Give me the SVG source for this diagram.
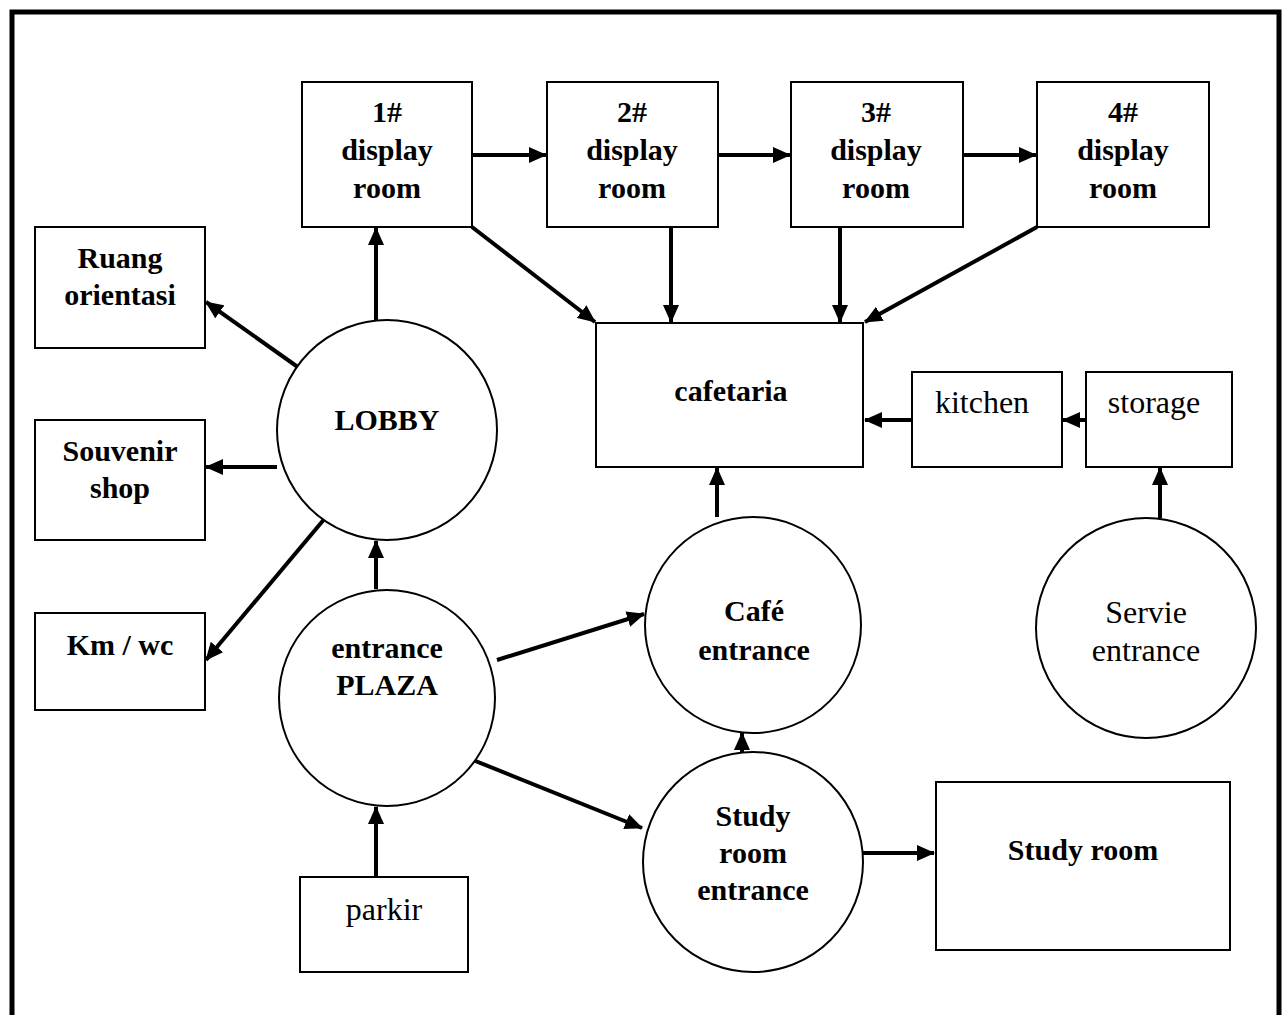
<svg xmlns="http://www.w3.org/2000/svg" width="1285" height="1019" viewBox="0 0 1285 1019">
  <defs>
    <marker id="arrow" markerUnits="userSpaceOnUse" markerWidth="18" markerHeight="16" viewBox="0 0 18 16" refX="17" refY="8" orient="auto">
      <path d="M0,0 L18,8 L0,16 Z" fill="#000"/>
    </marker>
  </defs>
  <style>
    .box { fill: #fff; stroke: #000; stroke-width: 2; }
    .hub { fill: #fff; stroke: #000; stroke-width: 2; }
    .t { font-family: "Liberation Serif", "Times New Roman", serif; font-size: 30px; font-weight: bold; fill: #000; text-anchor: middle; }
    .r { font-family: "Liberation Serif", "Times New Roman", serif; font-size: 32px; font-weight: normal; fill: #000; text-anchor: middle; }
    .link { stroke: #000; stroke-width: 4; fill: none; marker-end: url(#arrow); }
  </style>
  <rect width="1285" height="1019" fill="#fff"/>

  <!-- outer frame (open at the bottom) -->
  <path d="M12,1015 L12,12 L1279,12 L1279,1015" fill="none" stroke="#000" stroke-width="5"/>

  <!-- connectors -->
  <g id="connectors">
    <line class="link" x1="472" y1="155" x2="546" y2="155"/>
    <line class="link" x1="718" y1="155" x2="790" y2="155"/>
    <line class="link" x1="963" y1="155" x2="1036" y2="155"/>
    <line class="link" x1="472" y1="227" x2="595" y2="322"/>
    <line class="link" x1="671" y1="227" x2="671" y2="322"/>
    <line class="link" x1="840" y1="227" x2="840" y2="322"/>
    <line class="link" x1="1037" y1="227" x2="865" y2="322"/>
    <line class="link" x1="376" y1="321" x2="376" y2="228"/>
    <line class="link" x1="302" y1="370" x2="206" y2="302"/>
    <line class="link" x1="277" y1="467" x2="206" y2="467"/>
    <line class="link" x1="326" y1="517" x2="206" y2="660"/>
    <line class="link" x1="376" y1="589" x2="376" y2="541"/>
    <line class="link" x1="376" y1="877" x2="376" y2="807"/>
    <line class="link" x1="497" y1="660" x2="644" y2="614"/>
    <line class="link" x1="473" y1="760" x2="642" y2="828"/>
    <line class="link" x1="742" y1="752" x2="742" y2="733"/>
    <line class="link" x1="717" y1="517" x2="717" y2="468"/>
    <line class="link" x1="912" y1="420" x2="865" y2="420"/>
    <line class="link" x1="1086" y1="420" x2="1063" y2="420"/>
    <line class="link" x1="1160" y1="518" x2="1160" y2="468"/>
    <line class="link" x1="862" y1="853" x2="934" y2="853"/>
  </g>

  <!-- display rooms -->
  <g id="display1">
    <rect class="box" x="302" y="82" width="170" height="145"/>
    <text class="t" x="387" y="122">1#</text>
    <text class="t" x="387" y="160">display</text>
    <text class="t" x="387" y="198">room</text>
  </g>
  <g id="display2">
    <rect class="box" x="547" y="82" width="171" height="145"/>
    <text class="t" x="632" y="122">2#</text>
    <text class="t" x="632" y="160">display</text>
    <text class="t" x="632" y="198">room</text>
  </g>
  <g id="display3">
    <rect class="box" x="791" y="82" width="172" height="145"/>
    <text class="t" x="876" y="122">3#</text>
    <text class="t" x="876" y="160">display</text>
    <text class="t" x="876" y="198">room</text>
  </g>
  <g id="display4">
    <rect class="box" x="1037" y="82" width="172" height="145"/>
    <text class="t" x="1123" y="122">4#</text>
    <text class="t" x="1123" y="160">display</text>
    <text class="t" x="1123" y="198">room</text>
  </g>

  <!-- rooms off the lobby -->
  <g id="ruang-orientasi">
    <rect class="box" x="35" y="227" width="170" height="121"/>
    <text class="t" x="120" y="268">Ruang</text>
    <text class="t" x="120" y="305">orientasi</text>
  </g>
  <g id="souvenir-shop">
    <rect class="box" x="35" y="420" width="170" height="120"/>
    <text class="t" x="120" y="461">Souvenir</text>
    <text class="t" x="120" y="498">shop</text>
  </g>
  <g id="km-wc">
    <rect class="box" x="35" y="613" width="170" height="97"/>
    <text class="t" x="120" y="655">Km / wc</text>
  </g>

  <!-- circulation hubs -->
  <g id="lobby">
    <circle class="hub" cx="387" cy="430" r="110"/>
    <text class="t" x="387" y="430">LOBBY</text>
  </g>
  <g id="entrance-plaza">
    <circle class="hub" cx="387" cy="698" r="108"/>
    <text class="t" x="387" y="658">entrance</text>
    <text class="t" x="387" y="695">PLAZA</text>
  </g>
  <g id="cafe-entrance">
    <circle class="hub" cx="753" cy="625" r="108"/>
    <text class="t" x="754" y="621">Café</text>
    <text class="t" x="754" y="660">entrance</text>
  </g>
  <g id="study-room-entrance">
    <circle class="hub" cx="753" cy="862" r="110"/>
    <text class="t" x="753" y="826">Study</text>
    <text class="t" x="753" y="863">room</text>
    <text class="t" x="753" y="900">entrance</text>
  </g>
  <g id="service-entrance">
    <circle class="hub" cx="1146" cy="628" r="110"/>
    <text class="r" x="1146" y="623">Servie</text>
    <text class="r" x="1146" y="661">entrance</text>
  </g>

  <!-- food service -->
  <g id="cafetaria">
    <rect class="box" x="596" y="323" width="267" height="144"/>
    <text class="t" x="731" y="401">cafetaria</text>
  </g>
  <g id="kitchen">
    <rect class="box" x="912" y="372" width="150" height="95"/>
    <text class="r" x="982" y="413">kitchen</text>
  </g>
  <g id="storage">
    <rect class="box" x="1086" y="372" width="146" height="95"/>
    <text class="r" x="1154" y="413">storage</text>
  </g>

  <g id="study-room">
    <rect class="box" x="936" y="782" width="294" height="168"/>
    <text class="t" x="1083" y="860">Study room</text>
  </g>
  <g id="parkir">
    <rect class="box" x="300" y="877" width="168" height="95"/>
    <text class="r" x="384" y="920">parkir</text>
  </g>
</svg>
